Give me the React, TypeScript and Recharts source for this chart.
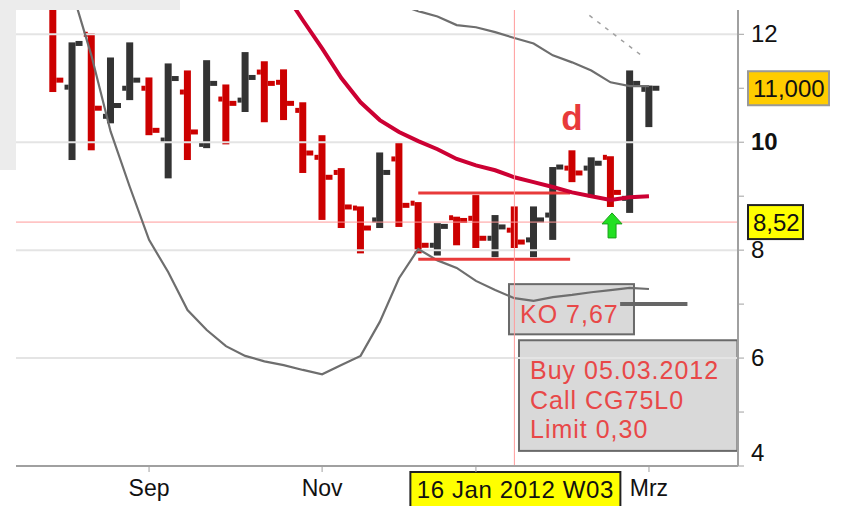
import React from "react";
import {
  ComposedChart,
  Bar,
  Line,
  XAxis,
  YAxis,
  ReferenceLine,
  ReferenceArea,
  ReferenceDot,
} from "recharts";

// weeks counted from Mon 5 Sep 2011 (0) up to Mon 5 Mar 2012 (26)
const weekIdx = [-5, -4, -3, -2, -1, 0, 1, 2, 3, 4, 5, 6, 7, 8, 9, 10, 11, 12, 13, 14, 15, 16, 17, 18, 19, 20, 21, 22, 23, 24, 25, 26];

const open = [12.6, 11.02, 12.0, 10.48, 11.0, 11.0, 10.04, 10.93, 9.96, 10.8, 10.78, 11.3, 11.11, 10.59, 9.72, 9.44, 8.78, 8.56, 9.69, 8.87, 8.09, 8.6, 8.59, 8.22, 8.37, 8.19, 8.65, 9.52, 9.52, 9.72, 8.96, 10.98];
const high = [12.7, 11.85, 12.02, 11.57, 11.85, 11.2, 11.46, 11.33, 11.52, 11.07, 11.67, 11.5, 11.35, 10.74, 10.13, 9.52, 8.81, 9.81, 10.0, 8.89, 8.5, 8.62, 9.02, 8.65, 8.81, 8.81, 9.54, 9.85, 9.72, 9.74, 11.33, 11.05];
const low = [10.93, 9.67, 9.85, 10.35, 10.78, 10.13, 9.33, 9.67, 9.89, 9.96, 10.56, 10.37, 10.41, 9.43, 8.56, 8.41, 7.94, 8.41, 8.43, 7.94, 7.9, 8.09, 8.04, 7.87, 8.04, 7.87, 8.19, 9.26, 8.98, 8.8, 8.69, 10.28];
const close = [11.15, 11.83, 10.63, 10.68, 11.15, 10.22, 11.18, 10.19, 11.09, 10.72, 11.2, 11.09, 10.72, 9.8, 9.35, 8.8, 8.41, 9.44, 8.83, 8.09, 8.44, 8.55, 8.22, 8.43, 8.15, 8.56, 9.54, 9.43, 9.61, 9.07, 11.09, 11.0];

// moving average and bands
const ma = [null, null, null, null, null, null, null, null, null, null, null, null, 12.8, 12.26, 11.74, 11.19, 10.74, 10.41, 10.19, 10.02, 9.87, 9.69, 9.57, 9.48, 9.35, 9.26, 9.17, 9.07, 9.0, 8.93, 8.98, 9.0];
const upperBand = [null, null, null, null, null, null, null, null, null, null, null, null, null, null, null, null, null, null, 12.55, 12.43, 12.33, 12.17, 12.13, 12.04, 11.93, 11.83, 11.61, 11.48, 11.33, 11.11, 11.04, 11.04];
const lowerBand = [null, 12.8, 11.61, 10.2, 9.17, 8.19, 7.59, 6.89, 6.52, 6.22, 6.04, 5.94, 5.87, 5.78, 5.7, 5.87, 6.04, 6.67, 7.48, 8.02, 7.81, 7.67, 7.43, 7.26, 7.11, 7.06, 7.13, 7.17, 7.22, 7.26, 7.3, 7.28];

const xTickWeeks = [0, 9, 17, 26];
// the Jan label sits under the date tag of the cursor, so it is left blank
const xTickLabels = ["Sep", "Nov", "", "Mrz"];
const yTicks = [4, 5, 6, 7, 8, 9, 10, 11, 12];
const gridLevels = [6, 8, 10, 12];

const lastPrice = 11.0;
const markerPrice = 8.52;
const markerWeek = 19;
const resistance = { from: 14, to: 21.9, level: 9.06 };
const support = { from: 14, to: 21.9, level: 7.83 };
const koStop = { from: 24.5, to: 28, level: 7.0 };
const trendDash = [{ x: 22.9, y: 12.35 }, { x: 25.6, y: 11.61 }];
const koBox = { x1: 18.72, x2: 25.22, y1: 6.44, y2: 7.37 };
const buyBox = { x1: 19.24, x2: 30.6, y1: 4.28, y2: 6.33 };
const buyLines = ["Buy 05.03.2012", "Call CG75L0", "Limit 0,30"];

const RED = "#cc0000";
const DARK = "#333333";
const FONT = '"Liberation Sans", Arial, sans-serif';

const rows = weekIdx.map((k, i) => ({
  k,
  range: [low[i], high[i]],
  open: open[i],
  close: close[i],
  ma: ma[i],
  upper: upperBand[i],
  lower: lowerBand[i],
}));

const OhlcBar = (props: any) => {
  const { x, y, width, height, payload, value } = props;
  if (x == null || !payload) return null;
  const [lo, hi] = Array.isArray(value) ? value : payload.range;
  const top = Math.min(y, y + height);
  const span = Math.abs(height);
  const py = (v: number) => top + ((hi - v) / (hi - lo)) * span;
  const cx = x + width / 2;
  const color = payload.close < payload.open ? RED : DARK;
  return (
    <g fill={color}>
      <rect x={cx - 3.5} y={top} width={7} height={span} />
      <rect x={cx - 7.5} y={py(payload.open) - 2.5} width={4} height={5} />
      <rect x={cx + 3.5} y={py(payload.close) - 2.5} width={7} height={5} />
    </g>
  );
};

const YTick = ({ x, y, payload }: any) => {
  const v = payload.value;
  if (v % 2 !== 0) return null;
  const shift = v === 4 ? -13 : 0;
  return (
    <text x={x + 5} y={y + 8 + shift} fontSize={24} fontFamily={FONT} fontWeight={v === 10 ? "bold" : "normal"} fill="#111">
      {v}
    </text>
  );
};

const XTick = ({ x, y, payload }: any) => {
  const i = xTickWeeks.indexOf(payload.value);
  return (
    <text x={x} y={y + 22} textAnchor="middle" fontSize={23} fontFamily={FONT} fill="#111">
      {xTickLabels[i]}
    </text>
  );
};

const priceTag = (text: string, fill: string, stroke: string, w: number) => (p: any) => {
  const vb = p.viewBox;
  const x0 = vb.x + vb.width + 10;
  return (
    <g>
      <rect x={x0} y={vb.y - 17} width={w} height={34} fill={fill} stroke={stroke} strokeWidth={2} />
      <text x={x0 + 5} y={vb.y + 9} fontSize={24} fontFamily={FONT} fill="#111">{text}</text>
    </g>
  );
};

const dateTag = (p: any) => {
  const vb = p.viewBox;
  const top = vb.y + vb.height + 6;
  return (
    <g>
      <rect x={vb.x - 104} y={top} width={210} height={36} fill="#ffff00" stroke="#222" strokeWidth={2} />
      <text x={vb.x + 1} y={top + 26} textAnchor="middle" fontSize={24} fontFamily={FONT} fill="#111" letterSpacing={0.6}>
        16 Jan 2012 W03
      </text>
    </g>
  );
};

const NoteBox = (lines: string[]) => (p: any) => (
  <g>
    <rect x={p.x} y={p.y} width={p.width} height={p.height} fill="#d9d9d9" stroke="#6a6a6a" strokeWidth={2} />
    {lines.map((t, i) => (
      <text key={t} x={p.x + 11} y={p.y + 39 + i * 29.5} fontSize={25} fontFamily={FONT} fill="#e84848" letterSpacing={1}>
        {t}
      </text>
    ))}
  </g>
);

const Arrow = (p: any) => {
  const { cx, cy } = p;
  const pts = [
    [cx, cy], [cx + 10, cy + 11], [cx + 4, cy + 11], [cx + 4, cy + 25],
    [cx - 4, cy + 25], [cx - 4, cy + 11], [cx - 10, cy + 11],
  ].map((q) => q.join(",")).join(" ");
  return <polygon points={pts} fill="#22e022" stroke="#18a018" strokeWidth={1} />;
};

const Letter = (p: any) => (
  <text x={p.cx} y={p.cy} textAnchor="middle" fontSize={35} fontWeight="bold" fontFamily={FONT} fill="#e83a3a">
    d
  </text>
);

export default function App() {
  return (
    <div style={{ position: "absolute", left: 0, top: 0, width: 841, height: 506, background: "#fff", overflow: "hidden" }}>
      <div style={{ position: "absolute", left: 0, top: 0, width: 180, height: 10, background: "#ececec" }} />
      <div style={{ position: "absolute", left: 0, top: 0, width: 16, height: 170, background: "#ececec" }} />
      <div style={{ position: "absolute", left: 0, top: 0 }}>
        <ComposedChart width={841} height={506} data={rows} margin={{ top: 10, right: 0, bottom: 0, left: 16 }}>
          <XAxis
            dataKey="k"
            type="number"
            domain={[-6.92, 30.63]}
            allowDataOverflow
            ticks={xTickWeeks}
            tick={<XTick />}
            height={40}
            stroke="#a0a0a0"
            axisLine={{ stroke: "#a0a0a0", strokeWidth: 2 }}
            tickLine={{ stroke: "#a0a0a0" }}
            tickSize={6}
          />
          <YAxis
            orientation="right"
            type="number"
            domain={[4, 12.45]}
            allowDataOverflow
            ticks={yTicks}
            tick={<YTick />}
            width={103}
            axisLine={{ stroke: "#a0a0a0", strokeWidth: 2 }}
            tickLine={{ stroke: "#a0a0a0" }}
            tickSize={6}
          />
          {gridLevels.map((g) => (
            <ReferenceLine key={g} y={g} stroke="#e4e4e4" strokeWidth={2} />
          ))}
          <ReferenceArea {...koBox} ifOverflow="visible" shape={NoteBox(["KO 7,67"])} />
          <ReferenceArea {...buyBox} ifOverflow="visible" shape={NoteBox(buyLines)} />
          <ReferenceLine y={markerPrice} stroke="#ff9a9a" strokeWidth={1} label={priceTag("8,52", "#ffff00", "#222", 55)} />
          <Line dataKey="lower" stroke="#6e6e6e" strokeWidth={2.2} dot={false} isAnimationActive={false} />
          <Line dataKey="upper" stroke="#6e6e6e" strokeWidth={2.2} dot={false} isAnimationActive={false} />
          <ReferenceLine
            segment={[{ x: koStop.from, y: koStop.level }, { x: koStop.to, y: koStop.level }]}
            stroke="#666"
            strokeWidth={4}
            ifOverflow="visible"
          />
          <ReferenceLine segment={trendDash} stroke="#a0a0a0" strokeWidth={1.5} strokeDasharray="4 6" />
          <ReferenceLine
            segment={[{ x: resistance.from, y: resistance.level }, { x: resistance.to, y: resistance.level }]}
            stroke="#e83a3a"
            strokeWidth={3}
          />
          <ReferenceLine
            segment={[{ x: support.from, y: support.level }, { x: support.to, y: support.level }]}
            stroke="#e83a3a"
            strokeWidth={3}
          />
          <Bar dataKey="range" barSize={7} shape={<OhlcBar />} isAnimationActive={false} />
          <Line dataKey="ma" stroke="#cc0033" strokeWidth={4} dot={false} isAnimationActive={false} />
          <ReferenceLine x={markerWeek} stroke="#ff9a9a" strokeWidth={1} label={dateTag} />
          <ReferenceLine y={lastPrice} stroke="none" label={priceTag("11,000", "#ffcc00", "#999", 81)} />
          <ReferenceDot x={22} y={10.22} r={0} shape={Letter} />
          <ReferenceDot x={24.08} y={8.69} r={0} shape={Arrow} />
        </ComposedChart>
      </div>
    </div>
  );
}
